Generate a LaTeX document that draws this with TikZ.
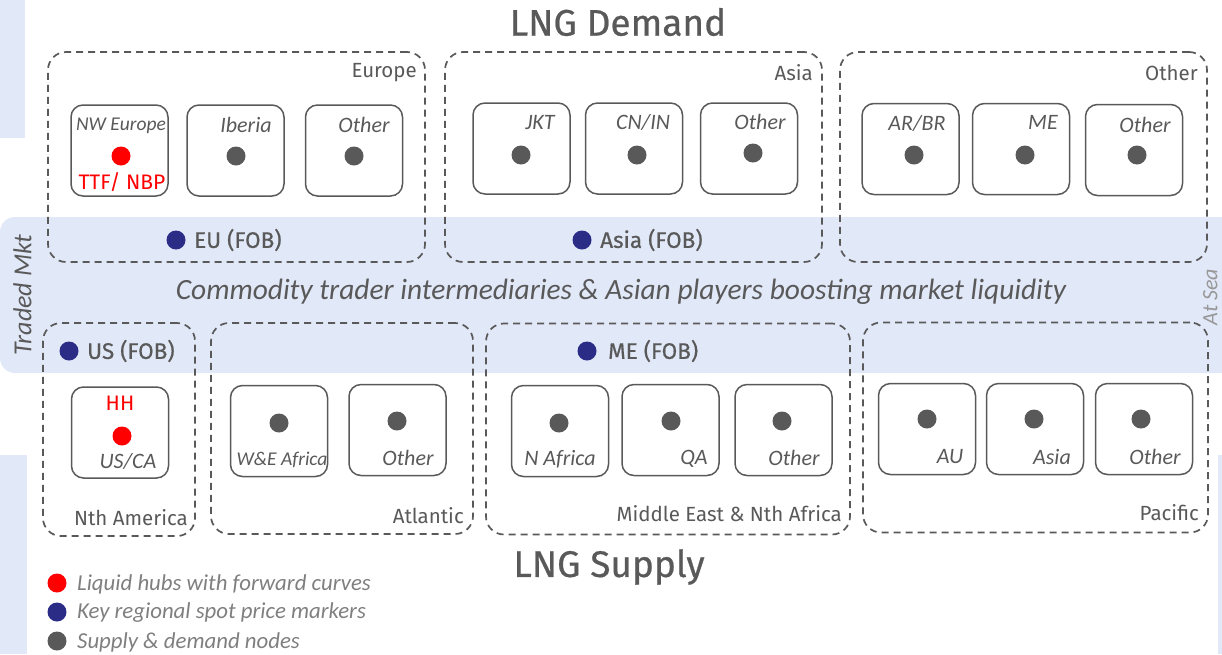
\documentclass[tikz,border=0pt]{standalone}
\usepackage{fontspec}
\setmainfont{Carlito}
\newfontfamily\din{Fira Sans}
\newfontfamily\dinm[FakeBold=0.6]{Fira Sans}
\definecolor{gr}{HTML}{595959}
\definecolor{lgr}{HTML}{7F7F7F}
\definecolor{band}{HTML}{E1E8F8}
\definecolor{spot}{HTML}{2B2C86}
\definecolor{hub}{HTML}{FF0000}
\tikzset{
  grp/.style={draw=gr, line width=1.7pt, dash pattern=on 7pt off 5pt, rounded corners=18pt, inner sep=0pt, outer sep=0pt},
  cellbox/.style={draw=gr, line width=1.5pt, rounded corners=12pt, inner sep=0pt, outer sep=0pt, minimum width=97pt, minimum height=91pt},
  dotn/.style={circle, fill=gr, minimum size=19pt, inner sep=0pt},
  dotspot/.style={circle, fill=spot, minimum size=19pt, inner sep=0pt},
  dothub/.style={circle, fill=hub, minimum size=19pt, inner sep=0pt},
  lab/.style={font=\fontsize{22}{25}\selectfont\itshape, text=gr, inner sep=0pt},
  glab/.style={font=\din\fontsize{20.5}{23}\selectfont, text=gr, inner sep=0pt, anchor=east},
  fob/.style={font=\dinm\fontsize{22.5}{25}\selectfont, text=gr, inner sep=0pt, anchor=west},
  title/.style={font=\dinm\fontsize{37}{40}\selectfont, text=gr, inner sep=0pt},
  hubtxt/.style={font=\din\fontsize{21}{24}\selectfont, text=hub, inner sep=0pt},
  legtxt/.style={font=\fontsize{22.8}{26}\selectfont\itshape, text=lgr, inner sep=0pt, anchor=west},
}
\begin{document}
\begin{tikzpicture}[x=1pt,y=-1pt]
\useasboundingbox (0,0) rectangle (1222,654);
\clip (0,0) rectangle (1222,654);
% background patches
\fill[band] (0,0) rectangle (25,138);
\fill[band] (0,455) rectangle (27,654);
\fill[band] (1218,455) rectangle (1240,654);
\fill[band, rounded corners=15pt] (0,217) rectangle (1250,373);
% titles
\node[title] (tdem) at (618,22) {LNG Demand};
\node[title] (tsup) at (609,567) {LNG Supply};
% demand groups
\node[grp, minimum width=377pt, minimum height=210pt] (europe) at (236.5,157) {};
\node[grp, minimum width=377pt, minimum height=210pt] (asiad) at (633.5,157) {};
\node[grp, minimum width=367pt, minimum height=210pt] (otherd) at (1023.5,157) {};
\node[glab] (leurope) at (417,73) {Europe};
\node[glab] (lasia) at (813,73) {Asia};
\node[glab] (lother) at (1198,73) {Other};
% demand cells
\node[cellbox] (eu1) at (119.5,150.5) {};
\node[cellbox] (eu2) at (235.5,150.5) {};
\node[cellbox] (eu3) at (354,150.5) {};
\node[cellbox] (as1) at (521.5,148.5) {};
\node[cellbox] (as2) at (634,148.5) {};
\node[cellbox] (as3) at (749,148.5) {};
\node[cellbox] (ot1) at (910.5,149) {};
\node[cellbox] (ot2) at (1021,149) {};
\node[cellbox] (ot3) at (1134,150) {};
\node[dothub] (deu1) at (121,156) {};
\node[dotn] (deu2) at (236,156) {};
\node[dotn] (deu3) at (354,156) {};
\node[dotn] (das1) at (521,155) {};
\node[dotn] (das2) at (637,155) {};
\node[dotn] (das3) at (753,153) {};
\node[dotn] (dot1) at (914,155) {};
\node[dotn] (dot2) at (1025,155) {};
\node[dotn] (dot3) at (1137,155) {};
\node[lab, font=\fontsize{19.5}{21}\selectfont\itshape] (leu1) at (121,126) {NW Europe};
\node[lab] (leu2) at (246,125) {Iberia};
\node[lab] (leu3) at (364,125) {Other};
\node[lab] (las1) at (540,123) {JKT};
\node[lab] (las2) at (643,122) {CN/IN};
\node[lab] (las3) at (760,122) {Other};
\node[lab] (lot1) at (917,123) {AR/BR};
\node[lab] (lot2) at (1043,122) {ME};
\node[lab] (lot3) at (1145,125) {Other};
\node[hubtxt] (ttf) at (122,182) {TTF/ NBP};
% spot markers demand
\node[dotspot] (seu) at (176,240) {};
\node[fob] (feu) at (194,240) {EU (FOB)};
\node[dotspot] (sas) at (582,240) {};
\node[fob] (fas) at (600,240) {Asia (FOB)};
% middle text
\node[lab, font=\fontsize{29.4}{32}\selectfont\itshape] (mid) at (621,292) {Commodity trader intermediaries \& Asian players boosting market liquidity};
\node[lab, font=\fontsize{26}{28}\selectfont\itshape, rotate=90, anchor=north] (traded) at (13,295) {Traded Mkt};
\node[lab, font=\fontsize{22}{24}\selectfont\itshape, text=lgr!80, rotate=90, anchor=north] (atsea) at (1203,297) {At Sea};
% supply groups
\node[grp, minimum width=152pt, minimum height=213pt] (nam) at (119,429.5) {};
\node[grp, minimum width=262pt, minimum height=211pt] (atl) at (342,428.5) {};
\node[grp, minimum width=364pt, minimum height=211pt] (mena) at (668,429) {};
\node[grp, minimum width=345pt, minimum height=210pt] (pac) at (1035.5,427.5) {};
\node[glab] (lnam) at (188,518) {Nth America};
\node[glab] (latl) at (464,516) {Atlantic};
\node[glab] (lmena) at (842,514) {Middle East \& Nth Africa};
\node[glab] (lpac) at (1199,513) {Pacific};
% supply cells
\node[cellbox] (na1) at (120,432.5) {};
\node[cellbox] (at1) at (279,431) {};
\node[cellbox] (at2) at (397.5,430) {};
\node[cellbox] (me1) at (560,431) {};
\node[cellbox] (me2) at (670.5,430) {};
\node[cellbox] (me3) at (783.5,430) {};
\node[cellbox] (pa1) at (927,429) {};
\node[cellbox] (pa2) at (1035,429) {};
\node[cellbox] (pa3) at (1144,429) {};
\node[dothub] (dna1) at (122,436) {};
\node[dotn] (dat1) at (279,423) {};
\node[dotn] (dat2) at (397,421) {};
\node[dotn] (dme1) at (559,423) {};
\node[dotn] (dme2) at (671,421) {};
\node[dotn] (dme3) at (782,421) {};
\node[dotn] (dpa1) at (927,419) {};
\node[dotn] (dpa2) at (1034,419) {};
\node[dotn] (dpa3) at (1141,419) {};
\node[hubtxt] (hh) at (120,403) {HH};
\node[lab] (lna1) at (128,461) {US/CA};
\node[lab, font=\fontsize{19.5}{21}\selectfont\itshape] (lat1) at (282,460) {W\&E Africa};
\node[lab] (lat2) at (408,458) {Other};
\node[lab] (lme1) at (560,459) {N Africa};
\node[lab] (lme2) at (694,459) {QA};
\node[lab] (lme3) at (794,458) {Other};
\node[lab] (lpa1) at (950,457) {AU};
\node[lab] (lpa2) at (1052,457) {Asia};
\node[lab] (lpa3) at (1155,457) {Other};
% spot markers supply
\node[dotspot] (sus) at (69,351) {};
\node[fob] (fus) at (87,351) {US (FOB)};
\node[dotspot] (sme) at (587,351) {};
\node[fob] (fme) at (608,351) {ME (FOB)};
% legend
\node[dothub] (lg1) at (57,583) {};
\node[legtxt] (lt1) at (77,584) {Liquid hubs with forward curves};
\node[dotspot] (lg2) at (57,612) {};
\node[legtxt] (lt2) at (77,613) {Key regional spot price markers};
\node[dotn] (lg3) at (57,641) {};
\node[legtxt] (lt3) at (77,642) {Supply \& demand nodes};
\end{tikzpicture}
\end{document}
